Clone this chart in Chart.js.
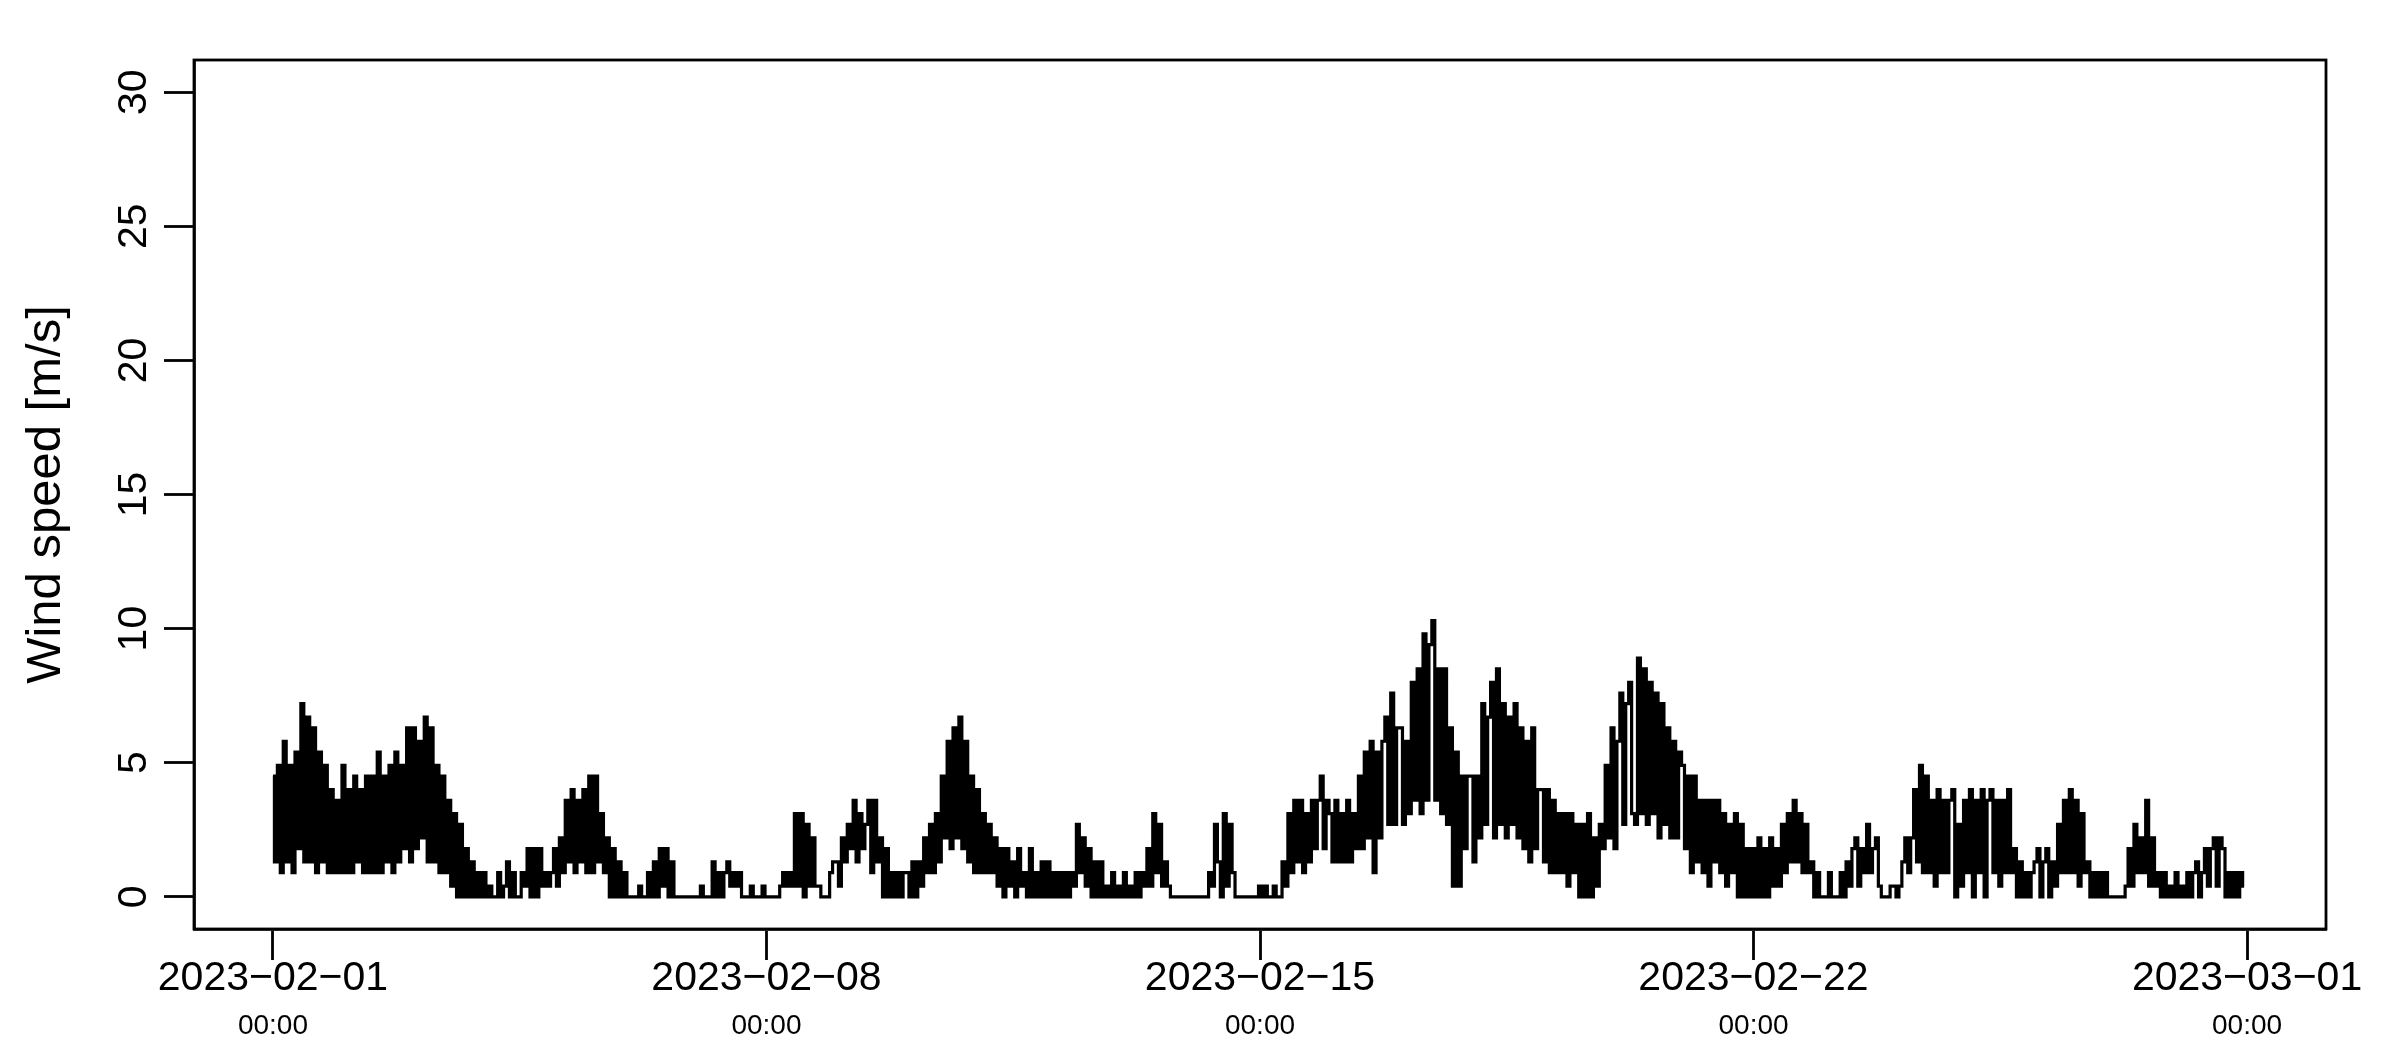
<!DOCTYPE html>
<html>
<head>
<meta charset="utf-8">
<title>Wind speed, February 2023</title>
<script src="https://cdn.jsdelivr.net/npm/chart.js@4.4.0/dist/chart.umd.min.js"></script>
<style>
  html, body { margin: 0; padding: 0; background: #fff; }
  #wrap { width: 2400px; height: 1050px; }
</style>
</head>
<body>
<div id="wrap"><canvas id="windChart" width="2400" height="1050"></canvas></div>
<script>
// hourly wind speed [m/s], one array per day (00:00 .. 23:00)
const feb01 = [4.5,1.3,4.9,0.9,5.8,1.3,4.9,0.9,5.4,1.8,7.2,1.3,6.7,1.3,6.3,0.9,5.4,1.3,4.9,0.9,4.0,0.9,3.6,0.9];
const feb02 = [4.9,0.9,4.0,0.9,4.5,1.3,4.0,0.9,4.5,0.9,4.5,0.9,5.4,0.9,4.5,1.3,4.9,0.9,5.4,1.3,4.9,1.8,6.3,1.3];
const feb03 = [6.3,1.8,5.8,2.2,6.7,1.3,6.3,1.3,4.9,0.9,4.5,0.9,3.6,0.4,3.1,0,2.7,0,1.8,0,1.3,0,0.9,0];
const feb04 = [0.9,0,0.4,0,0,0.9,0,0.4,1.3,0,0.9,0,0,0.9,0.4,1.8,0,1.8,0,1.8,0.4,0.9,0.4,0.9];
const feb05 = [1.8,0.4,2.2,0.9,3.6,1.3,4.0,0.9,3.6,1.3,4.0,0.9,4.5,0.9,4.5,1.3,3.1,0.9,2.2,0,1.8,0,1.3,0];
const feb06 = [0.9,0,0,0,0,0.4,0,0,0.9,0,1.3,0,1.8,0.4,1.8,0,1.3,0,0,0,0,0,0,0];
const feb07 = [0,0,0.4,0,0,0,1.3,0,0.9,0,0.9,1.3,0.4,0.9,0.4,0.9,0,0,0,0.4,0,0,0,0.4];
const feb08 = [0,0,0,0,0,0.4,0.9,0.4,0.9,0.4,3.1,0.4,3.1,0,2.7,0.4,2.2,0.4,0.4,0,0,0,0.9,1.3];
const feb09 = [1.3,0.4,2.2,1.3,2.7,1.8,3.6,1.3,3.1,1.8,2.7,3.6,0.9,3.6,1.3,2.2,0,1.8,0,0.9,0,0.9,0,0.9];
const feb10 = [0.9,0,1.3,0,1.3,0.4,2.2,0.9,2.7,0.9,3.1,1.3,4.5,2.2,5.8,1.8,6.3,2.2,6.7,1.8,5.8,1.3,4.5,0.9];
const feb11 = [4.0,0.9,3.1,0.9,2.7,0.9,2.2,0.4,1.8,0,1.8,0.4,1.3,0,1.8,0.4,0.9,0,1.8,0,0.9,0,1.3,0];
const feb12 = [1.3,0,0.9,0,0.9,0,0.9,0,0.9,0.4,2.7,0.9,2.2,0.4,1.8,0,1.3,0,1.3,0,0.4,0,0.9,0];
const feb13 = [0.4,0,0.9,0,0.4,0,0.9,0,0.9,0.4,1.8,0.4,3.1,0.9,2.7,0.4,1.3,0.4,0,0,0,0,0,0];
const feb14 = [0,0,0,0,0,0,0,0.9,0.4,2.7,1.3,0,3.1,0.4,2.7,0.9,0,0,0,0,0,0,0,0];
const feb15 = [0.4,0,0.4,0,0,0.4,0,0,1.3,0.4,3.1,0.9,3.6,1.3,3.6,0.9,3.1,1.3,3.6,1.8,3.6,4.5,1.8,3.6];
const feb16 = [3.1,1.3,3.6,1.3,3.1,1.3,3.6,1.3,3.1,1.8,4.5,1.8,5.4,2.2,5.8,0.9,5.4,2.2,5.8,6.7,2.7,7.6,2.7,6.3];
const feb17 = [6.3,2.7,5.8,3.1,8.0,3.6,8.5,3.1,9.8,3.6,9.4,10.3,3.6,8.5,3.1,8.5,2.7,6.3,0.4,5.4,0.4,4.5,1.8,4.5];
const feb18 = [4.5,1.3,4.5,2.2,7.2,2.7,6.7,8.0,2.2,8.5,2.7,7.2,2.2,6.7,2.7,7.2,2.2,6.3,1.8,5.8,1.3,6.3,1.8,4.0];
const feb19 = [4.0,1.3,4.0,0.9,3.6,0.9,3.1,0.9,3.1,0.4,3.1,0.9,2.7,0,2.7,0,3.1,0,2.2,0.4,2.7,1.8,4.9,2.2];
const feb20 = [6.3,1.8,5.8,7.6,2.7,7.2,8.0,3.1,2.7,8.9,3.1,8.5,2.7,8.0,3.1,7.6,2.2,7.2,2.7,6.3,2.2,5.8,2.2,5.4];
const feb21 = [4.9,1.8,4.5,0.9,4.5,1.3,3.6,0.9,3.6,0.4,3.6,1.3,3.6,0.9,3.1,0.4,2.7,0.9,3.1,0,2.7,0,1.8,0];
const feb22 = [1.8,0,2.2,0,1.8,0,2.2,0.4,1.8,0.4,2.7,0.9,3.1,1.3,3.6,1.3,3.1,0.9,2.7,0.9,1.3,0,0.9,0];
const feb23 = [0,0,0.9,0,0,0,0.9,0,1.3,0.4,1.8,2.2,0.4,1.8,0.9,2.7,0.9,1.8,2.2,0.4,0,0,0,0.4];
const feb24 = [0.4,0,0.4,1.3,2.2,0.9,2.2,4.0,1.3,4.9,0.9,4.5,0.9,3.6,0.4,4.0,0.9,3.6,0.9,3.6,4.0,0,2.7,0.4];
const feb25 = [3.6,0.9,4.0,0,3.6,0.9,4.0,0,3.6,4.0,0.9,3.6,0.4,3.6,0.9,4.0,0.9,1.8,0,1.3,0,0.9,0,0.9];
const feb26 = [1.3,1.8,0,1.3,1.8,0,1.3,0.4,2.7,0.9,3.6,0.9,4.0,0.9,3.6,0.4,3.1,0.9,1.3,0,0.9,0,0.9,0];
const feb27 = [0.9,0,0,0,0,0,0,0.4,1.8,0.4,2.7,0.9,2.2,0.9,3.6,0.4,2.2,0.4,0.9,0,0.9,0,0.4,0];
const feb28 = [0.9,0,0.4,0,0.9,0,0.9,1.3,0,0.9,1.8,0.4,1.8,2.2,0.4,2.2,1.8,0,0.9,0,0.9,0,0.9,0.4];

const days = [feb01, feb02, feb03, feb04, feb05, feb06, feb07, feb08, feb09, feb10,
              feb11, feb12, feb13, feb14, feb15, feb16, feb17, feb18, feb19, feb20,
              feb21, feb22, feb23, feb24, feb25, feb26, feb27, feb28];

// axis ticks (x in days since 2023-02-01 00:00)
const xTickDays = [0, 7, 14, 21, 28];
const xTickDates = ['2023\u221202\u221201', '2023\u221202\u221208', '2023\u221202\u221215', '2023\u221202\u221222', '2023\u221203\u221201'];
const xTickTimes = ['00:00', '00:00', '00:00', '00:00', '00:00'];
const yTicks = [0, 5, 10, 15, 20, 25, 30];
const yTitle = 'Wind speed [m/s]';

const FONT = 'Liberation Sans';

// one point per hour
const points = [];
days.forEach((vals, d) => {
    vals.forEach((v, h) => points.push({ x: d + h / 24, y: v }));
});

// R-style frame round the plot region, plus y labels turned parallel to the axis
const frameAndYLabels = {
    id: 'frameAndYLabels',
    afterDraw(chart) {
        const { ctx, chartArea: a, scales: { y } } = chart;
        ctx.save();
        ctx.strokeStyle = '#000';
        ctx.lineWidth = 2.8;
        ctx.strokeRect(a.left, a.top, a.right - a.left, a.bottom - a.top);

        ctx.fillStyle = '#000';
        ctx.font = `41px "${FONT}"`;
        ctx.textAlign = 'center';
        ctx.textBaseline = 'alphabetic';
        y.ticks.forEach(t => {
            ctx.save();
            ctx.translate(y.right - 48, y.getPixelForValue(t.value));
            ctx.rotate(-Math.PI / 2);
            ctx.fillText(String(t.value), 0, 0);
            ctx.restore();
        });
        ctx.restore();
    }
};

const ctx = document.getElementById('windChart').getContext('2d');
new Chart(ctx, {
    type: 'line',
    data: {
        datasets: [{
            label: 'Wind speed',
            data: points,
            borderColor: '#000',
            borderWidth: 3.2,
            stepped: 'middle',
            pointRadius: 0,
            fill: false
        }]
    },
    options: {
        responsive: false,
        animation: false,
        devicePixelRatio: 1,
        layout: { padding: { top: 60, right: 74, bottom: 0, left: 0 } },
        plugins: {
            legend: { display: false },
            tooltip: { enabled: false }
        },
        scales: {
            x: {
                type: 'linear',
                position: 'bottom',
                weight: 0,
                min: -1.12,
                max: 29.12,
                afterBuildTicks: s => { s.ticks = xTickDays.map(v => ({ value: v })); },
                afterFit: s => { s.height = 80; },
                grid: { drawOnChartArea: false, drawTicks: true, tickLength: 31, tickWidth: 2.8, tickColor: '#000' },
                border: { display: true, color: '#000', width: 2.8 },
                ticks: {
                    autoSkip: false, maxRotation: 0, minRotation: 0, padding: 0, color: '#000',
                    font: { family: FONT, size: 41, lineHeight: 0.9 },
                    callback: (v, i) => xTickDates[i]
                }
            },
            x2: {
                type: 'linear',
                position: 'bottom',
                weight: 1,
                min: -1.12,
                max: 29.12,
                afterBuildTicks: s => { s.ticks = xTickDays.map(v => ({ value: v })); },
                afterFit: s => { s.height = 41; },
                grid: { display: false, drawTicks: false },
                border: { display: false },
                ticks: {
                    autoSkip: false, maxRotation: 0, minRotation: 0, padding: 3, color: '#000',
                    font: { family: FONT, size: 28, lineHeight: 1 },
                    callback: (v, i) => xTickTimes[i]
                }
            },
            y: {
                type: 'linear',
                min: -1.2,
                max: 31.2,
                afterBuildTicks: s => { s.ticks = yTicks.map(v => ({ value: v })); },
                afterFit: s => { s.width = 194; },
                grid: { drawOnChartArea: false, drawTicks: true, tickLength: 30, tickWidth: 2.8, tickColor: '#000' },
                border: { display: true, color: '#000', width: 2.8 },
                ticks: { display: false },
                title: {
                    display: true,
                    text: yTitle,
                    color: '#000',
                    font: { family: FONT, size: 49 },
                    padding: { top: 17, bottom: 0 }
                }
            }
        }
    },
    plugins: [frameAndYLabels]
});
</script>
</body>
</html>
